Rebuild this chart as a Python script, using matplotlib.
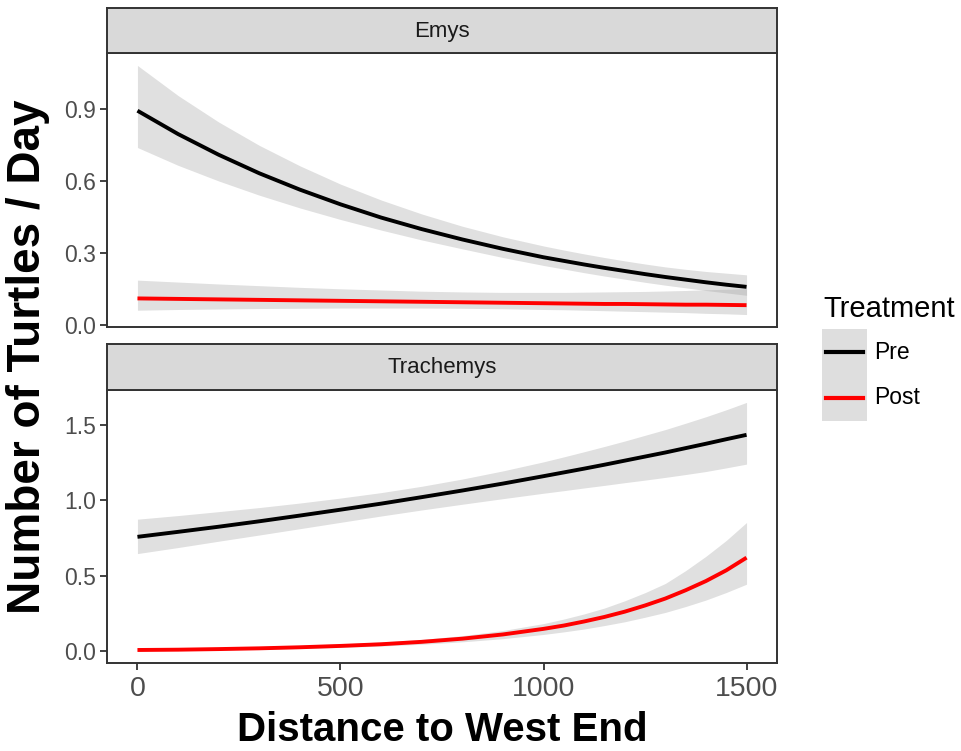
import matplotlib.pyplot as plt
from matplotlib.patches import Rectangle
from matplotlib.lines import Line2D

plt.rcParams['font.family'] = ['Liberation Sans', 'DejaVu Sans']

# Distance to west end (shared x)
dist = [0, 100, 200, 300, 400, 500, 600, 700, 800, 900, 1000,
        1050, 1100, 1150, 1200, 1250, 1300, 1350, 1400, 1450, 1500]

# Emys - fitted values and confidence band
emys_pre = [0.892, 0.795, 0.709, 0.632, 0.564, 0.503, 0.448, 0.400, 0.357, 0.318, 0.283,
            0.268, 0.253, 0.239, 0.226, 0.213, 0.201, 0.190, 0.179, 0.169, 0.160]
emys_pre_hi = [1.080, 0.955, 0.845, 0.748, 0.663, 0.587, 0.521, 0.463, 0.412, 0.368, 0.330,
               0.313, 0.297, 0.282, 0.268, 0.255, 0.243, 0.233, 0.224, 0.217, 0.210]
emys_pre_lo = [0.739, 0.665, 0.600, 0.541, 0.488, 0.440, 0.396, 0.355, 0.318, 0.282, 0.249,
               0.234, 0.219, 0.205, 0.192, 0.179, 0.167, 0.156, 0.145, 0.135, 0.125]
emys_post = [0.112, 0.110, 0.108, 0.106, 0.104, 0.102, 0.100, 0.098, 0.096, 0.094, 0.092,
             0.091, 0.090, 0.089, 0.089, 0.088, 0.087, 0.086, 0.086, 0.085, 0.084]
emys_post_hi = [0.188, 0.180, 0.172, 0.165, 0.158, 0.152, 0.147, 0.142, 0.139, 0.137, 0.137,
                0.137, 0.138, 0.139, 0.140, 0.141, 0.143, 0.145, 0.148, 0.150, 0.153]
emys_post_lo = [0.063, 0.066, 0.068, 0.070, 0.071, 0.072, 0.072, 0.072, 0.071, 0.069, 0.066,
                0.065, 0.063, 0.061, 0.059, 0.057, 0.055, 0.053, 0.050, 0.048, 0.045]

# Trachemys
trach_pre = [0.759, 0.792, 0.826, 0.862, 0.900, 0.939, 0.979, 1.022, 1.066, 1.112, 1.161,
             1.186, 1.211, 1.237, 1.264, 1.291, 1.318, 1.347, 1.376, 1.406, 1.435]
trach_pre_hi = [0.876, 0.900, 0.926, 0.953, 0.983, 1.016, 1.052, 1.094, 1.142, 1.196, 1.256,
                1.289, 1.323, 1.358, 1.394, 1.432, 1.470, 1.512, 1.555, 1.601, 1.650]
trach_pre_lo = [0.648, 0.688, 0.730, 0.771, 0.813, 0.855, 0.897, 0.937, 0.975, 1.012, 1.048,
                1.065, 1.083, 1.100, 1.118, 1.135, 1.153, 1.172, 1.192, 1.216, 1.241]
trach_post = [0.009, 0.011, 0.015, 0.020, 0.027, 0.036, 0.047, 0.063, 0.084, 0.112, 0.149,
              0.171, 0.198, 0.228, 0.263, 0.304, 0.350, 0.405, 0.466, 0.537, 0.621]
trach_post_hi = [0.016, 0.020, 0.025, 0.031, 0.039, 0.049, 0.062, 0.079, 0.104, 0.138, 0.184,
                 0.214, 0.248, 0.287, 0.335, 0.389, 0.450, 0.535, 0.630, 0.735, 0.854]
trach_post_lo = [0.005, 0.007, 0.010, 0.014, 0.019, 0.026, 0.035, 0.047, 0.063, 0.084, 0.112,
                 0.129, 0.148, 0.171, 0.196, 0.226, 0.258, 0.297, 0.340, 0.390, 0.445]

species = ['Emys', 'Trachemys']
yticks = [[0.0, 0.3, 0.6, 0.9], [0.0, 0.5, 1.0, 1.5]]
xticks = [0, 500, 1000, 1500]

panels = [
    (emys_pre, emys_pre_lo, emys_pre_hi, emys_post, emys_post_lo, emys_post_hi),
    (trach_pre, trach_pre_lo, trach_pre_hi, trach_post, trach_post_lo, trach_post_hi),
]

W, H = 961, 751
fig = plt.figure(figsize=(W / 100, H / 100), dpi=100)

def box(x0, y0, x1, y1):
    # pixel box (top-left origin) -> figure fraction
    return [x0 / W, 1 - y1 / H, (x1 - x0) / W, (y1 - y0) / H]

edge = '#333333'
panel_px = [(53, 327), (390, 663)]
strip_px = [(8, 53), (344, 390)]

for i, (pre, pre_lo, pre_hi, post, post_lo, post_hi) in enumerate(panels):
    ax = fig.add_axes(box(107, panel_px[i][0], 777, panel_px[i][1]))
    ax.fill_between(dist, pre_lo, pre_hi, color='#999999', alpha=0.3, lw=0)
    ax.fill_between(dist, post_lo, post_hi, color='#999999', alpha=0.3, lw=0)
    ax.plot(dist, pre, color='black', lw=2.8, solid_capstyle='butt')
    ax.plot(dist, post, color='red', lw=2.8, solid_capstyle='butt')

    lo = min(pre_lo + post_lo)
    hi = max(pre_hi + post_hi)
    pad = (hi - lo) * 0.05
    ax.set_ylim(lo - pad, hi + pad)
    ax.set_xlim(-75, 1575)
    ax.set_yticks(yticks[i])
    ax.set_yticklabels([f'{v:.1f}' for v in yticks[i]])
    ax.tick_params(axis='y', labelsize=16.5, colors=edge, labelcolor='#4D4D4D',
                   length=5, width=1.3, pad=3)
    if i == 1:
        ax.set_xticks(xticks)
        ax.tick_params(axis='x', labelsize=20.5, colors=edge, labelcolor='#4D4D4D',
                       length=5, width=1.3, pad=4)
    else:
        ax.set_xticks([])
    for s in ax.spines.values():
        s.set_color(edge)
        s.set_linewidth(1.4)

    sx = fig.add_axes(box(107, strip_px[i][0], 777, strip_px[i][1]))
    sx.set_facecolor('#D9D9D9')
    sx.set_xticks([])
    sx.set_yticks([])
    for s in sx.spines.values():
        s.set_color(edge)
        s.set_linewidth(1.4)
    sx.text(0.5, 0.48, species[i], ha='center', va='center', fontsize=16,
            color='#1A1A1A', transform=sx.transAxes)

fig.text(442 / W, 1 - 730 / H, 'Distance to West End', ha='center', va='center',
         fontsize=29, fontweight='bold')
fig.text(28 / W, 1 - 357 / H, 'Number of Turtles / Day', ha='center', va='center',
         rotation=90, fontsize=33, fontweight='bold')

# legend
fig.text(823 / W, 1 - 317 / H, 'Treatment', ha='left', va='baseline', fontsize=21)
fig.add_artist(Rectangle((822 / W, 1 - 421 / H), 45 / W, 92 / H,
                         transform=fig.transFigure, facecolor='#DEDEDE', edgecolor='none'))
for yy, col, lab in [(352, 'black', 'Pre'), (398, 'red', 'Post')]:
    fig.add_artist(Line2D([826 / W, 863 / W], [1 - yy / H, 1 - yy / H],
                          transform=fig.transFigure, color=col, lw=3))
    fig.text(874 / W, 1 - yy / H, lab, ha='left', va='center', fontsize=16.5)

fig.savefig('out.png', dpi=100)
